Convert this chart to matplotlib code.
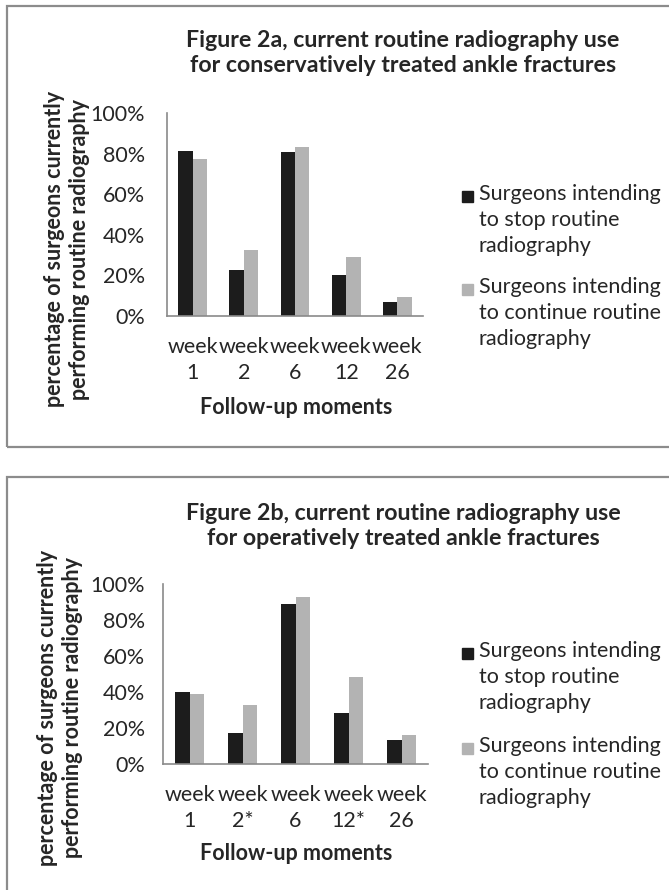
import matplotlib
matplotlib.use("Agg")
import matplotlib.pyplot as plt
from matplotlib.patches import Rectangle
import numpy as np

# data (percent of surgeons)
weeks_a = ["week\n1", "week\n2", "week\n6", "week\n12", "week\n26"]
weeks_b = ["week\n1", "week\n2*", "week\n6", "week\n12*", "week\n26"]
stop_a = [81.5, 22.7, 80.9, 20.2, 6.9]
continue_a = [77.3, 32.6, 83.2, 29.3, 9.4]
stop_b = [40.0, 17.2, 89.1, 28.1, 13.3]
continue_b = [39.1, 32.6, 92.6, 48.3, 15.9]
yticks = [0, 20, 40, 60, 80, 100]
series_names = ["Surgeons intending\nto stop routine\nradiography",
                "Surgeons intending\nto continue routine\nradiography"]
titles = ["Figure 2a, current routine radiography use\nfor conservatively treated ankle fractures",
          "Figure 2b, current routine radiography use\nfor operatively treated ankle fractures"]
ylabel = "percentage of surgeons currently\nperforming routine radiography"
xlabel = "Follow-up moments"

W, H = 669, 890
DARK = "#1c1c1c"
LIGHT = "#b3b3b3"
AXC = "#8a8a8a"
TXT = "#262626"

plt.rcParams["font.family"] = ["Lato", "DejaVu Sans"]
fig = plt.figure(figsize=(W / 100, H / 100), dpi=100)
fig.patch.set_facecolor("white")


def fx(px):
    return px / W


def fy(py):
    return 1 - py / H


def panel(box, ax_px, labels, stop, cont, title, title_y, ylab_x, ylab_y,
          xlab_y, leg_y, ytick_pad):
    x0, y0, x1, y1 = box
    fig.add_artist(Rectangle((fx(x0), fy(y1)), fx(x1 - x0), (y1 - y0) / H,
                             transform=fig.transFigure, fill=False,
                             edgecolor="#8c8c8c", lw=1.6, clip_on=False))
    l, t, r, b = ax_px
    ax = fig.add_axes([fx(l), fy(b), fx(r - l), (b - t) / H])
    x = np.arange(len(labels))
    w = 0.283
    ax.bar(x - w / 2, stop, w, color=DARK)
    ax.bar(x + w / 2, cont, w, color=LIGHT)
    ax.set_xlim(-0.5, len(labels) - 0.5)
    ax.set_ylim(0, 100)
    ax.set_yticks(yticks)
    ax.set_yticklabels([f"{v}%" for v in yticks], fontsize=15.5, color=TXT)
    ax.set_xticks(x)
    ax.set_xticklabels(labels, fontsize=15.5, color=TXT, linespacing=1.4)
    ax.tick_params(axis="both", length=0)
    ax.tick_params(axis="y", pad=ytick_pad)
    ax.tick_params(axis="x", pad=15)
    for s in ["top", "right"]:
        ax.spines[s].set_visible(False)
    for s in ["left", "bottom"]:
        ax.spines[s].set_color(AXC)
        ax.spines[s].set_linewidth(1.2)
    ax.patch.set_alpha(0)

    fig.text(fx(403), fy(title_y), title, ha="center", va="center",
             fontsize=16.7, fontweight="bold", color=TXT, linespacing=1.2)
    fig.text(fx(ylab_x), fy(ylab_y), ylabel, rotation=90, ha="center",
             va="center", ma="center", fontsize=15.5, fontweight="bold",
             color=TXT, linespacing=1.25)
    fig.text(fx(296), fy(xlab_y), xlabel, ha="center", va="center",
             fontsize=15.5, fontweight="bold", color=TXT)
    for i, (name, col) in enumerate(zip(series_names, [DARK, LIGHT])):
        ty = leg_y[i]
        fig.add_artist(Rectangle((fx(462), fy(ty + 6)), fx(11), 11 / H,
                                 transform=fig.transFigure, color=col))
        fig.text(fx(479), fy(ty - 12), name, ha="left", va="top",
                 fontsize=15.5, color=TXT, linespacing=1.38)


panel((7, 6, 690, 447), (167, 113, 423, 316), weeks_a, stop_a, continue_a,
      titles[0], 53, 67, 249, 407, [196, 289], 16)
panel((7, 477, 690, 905), (163, 584, 428, 764), weeks_b, stop_b, continue_b,
      titles[1], 526, 60, 708, 853, [653, 748], 13)

fig.savefig("out.png", dpi=100, facecolor="white")
